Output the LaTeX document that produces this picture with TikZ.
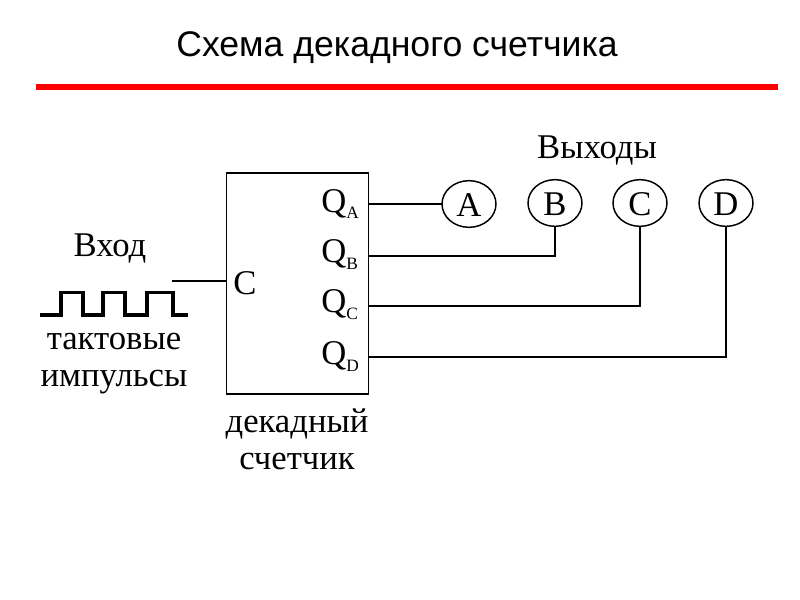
\documentclass[tikz,border=0pt]{standalone}
\usepackage{fontspec}
\setmainfont{Liberation Serif}
\newfontfamily\hdfont{Liberation Sans}
\usetikzlibrary{shapes.geometric}
\tikzset{
  wire/.style={black,line width=1.3pt},
  lamp/.style={draw=black,line width=1.1pt,ellipse,minimum width=40.5pt,minimum height=35pt,inner sep=0pt,outer sep=0pt,font=\fontsize{26}{26}\selectfont,text height=18pt,text depth=0pt},
  lbl/.style={inner sep=0pt,font=\fontsize{26}{27.5}\selectfont,align=center},
  qlbl/.style={inner sep=0pt,anchor=west,font=\fontsize{26}{27}\selectfont}
}
\newcommand{\Qs}[1]{Q\raisebox{-0.2em}{\fontsize{13}{13}\selectfont #1}}
\begin{document}
\begin{tikzpicture}[x=0.75pt,y=-0.75pt]
\useasboundingbox (0,0) rectangle (800,600);
\node[inner sep=0pt,font=\hdfont\fontsize{26.7}{30}\selectfont] (title) at (397,48) {Схема декадного счетчика};
\coordinate (ruleL) at (36,87);
\coordinate (ruleR) at (778,87);
\draw[red,line width=3.9pt] (ruleL) -- (ruleR);
\node[draw=black,line width=1.3pt,inner sep=0pt,outer sep=0pt,anchor=north west,minimum width=106.5pt,minimum height=165.75pt] (box) at (226.5,173) {};
\node[lbl] (out) at (597,150) {Выходы};
\node[lbl] (in) at (110,248) {Вход};
\node[lbl] (pulse) at (114,363.5) {тактовые\\импульсы};
\node[lbl] (dc) at (297,439) {декадный\\счетчик};
\node[qlbl] (c) at (233,283) {C};
\node[qlbl] (qa) at (321,204) {\Qs{A}};
\node[qlbl] (qb) at (321,255) {\Qs{B}};
\node[qlbl] (qc) at (321,305) {\Qs{C}};
\node[qlbl] (qd) at (321,357) {\Qs{D}};
\node[lamp] (A) at (469,204) {A};
\node[lamp] (B) at (555,203) {B};
\node[lamp] (C) at (640,203) {C};
\node[lamp] (D) at (726,203) {D};
\coordinate (qaw) at (368,204);
\coordinate (qbw) at (368,256);
\coordinate (qcw) at (368,306);
\coordinate (qdw) at (368,357);
\coordinate (cw) at (172,281);
\draw[wire] (qaw) -- (A.west);
\draw[wire] (qbw) -| (B.south);
\draw[wire] (qcw) -| (C.south);
\draw[wire] (qdw) -| (D.south);
\draw[wire] (cw) -- (226,281);
\coordinate (p0) at (40,315);
\draw[black,line width=2.9pt] (p0) -- (61,315) -- (61,292.5) -- (83,292.5) -- (83,315) -- (103,315) -- (103,292.5) -- (125,292.5) -- (125,315) -- (147,315) -- (147,292.5) -- (173,292.5) -- (173,315) -- (188,315);
\end{tikzpicture}
\end{document}
